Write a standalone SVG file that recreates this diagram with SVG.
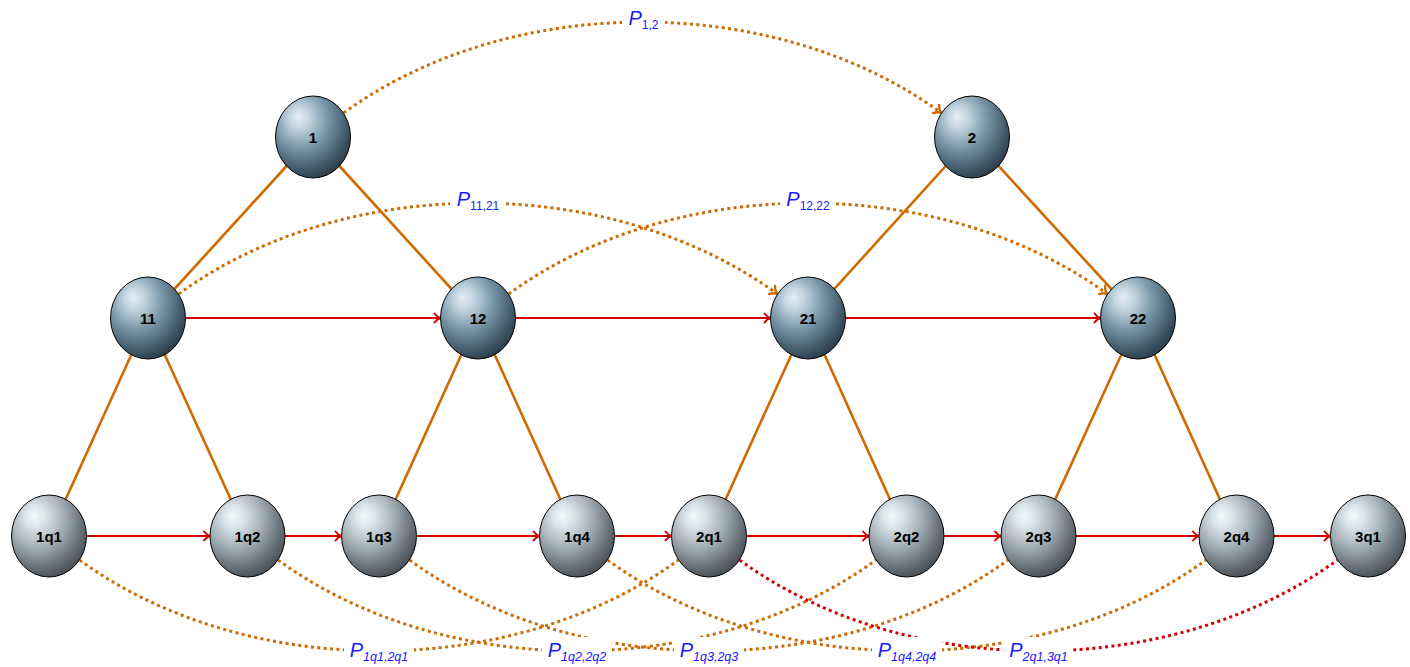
<svg xmlns="http://www.w3.org/2000/svg" width="1410" height="667" viewBox="0 0 1410 667">
<defs>
<radialGradient id="gBlue" cx="0.38" cy="0.32" r="0.72" fx="0.3" fy="0.25">
<stop offset="0" stop-color="#e4eef4"/>
<stop offset="0.18" stop-color="#c3d6e1"/>
<stop offset="0.5" stop-color="#7896a8"/>
<stop offset="0.82" stop-color="#415a6a"/>
<stop offset="1" stop-color="#2a3a46"/>
</radialGradient>
<radialGradient id="gGray" cx="0.38" cy="0.32" r="0.72" fx="0.3" fy="0.25">
<stop offset="0" stop-color="#f4f8fa"/>
<stop offset="0.18" stop-color="#dce5ea"/>
<stop offset="0.5" stop-color="#a4aeb5"/>
<stop offset="0.82" stop-color="#646d74"/>
<stop offset="1" stop-color="#464d52"/>
</radialGradient>
<marker id="arR" markerUnits="userSpaceOnUse" markerWidth="14" markerHeight="14" refX="0" refY="0" orient="auto" overflow="visible">
<path d="M-6,-4.5 C-4,-1.8 -1.5,-0.5 0,0 C-1.5,0.5 -4,1.8 -6,4.5" fill="none" stroke="#d40000" stroke-width="2" stroke-linecap="round"/>
</marker>
<marker id="arO" markerUnits="userSpaceOnUse" markerWidth="14" markerHeight="14" refX="0" refY="0" orient="auto" overflow="visible">
<path d="M-6.5,-5 C-4.5,-2 -1.5,-0.5 0,0 C-1.5,0.5 -4.5,2 -6.5,5" fill="none" stroke="#cf6a00" stroke-width="2.4" stroke-linecap="round"/>
</marker>
</defs>
<style>
.tree{stroke:#cf6a00;stroke-width:2.6;fill:none}
.seq{stroke:#d40000;stroke-width:2;fill:none;marker-end:url(#arR)}
.dotO{stroke:#cf6a00;stroke-width:3;stroke-dasharray:3 3.4;fill:none}
.dotR{stroke:#d40000;stroke-width:3;stroke-dasharray:3 3.4;fill:none}
.nb{fill:url(#gBlue);stroke:#000;stroke-width:1}
.ng{fill:url(#gGray);stroke:#000;stroke-width:1}
.nt{font-family:"Liberation Sans",Arial,sans-serif;font-weight:bold;font-size:15px;fill:#000;text-anchor:middle}
.lb{font-family:"Liberation Sans",Arial,sans-serif;fill:#1a1aff;text-anchor:middle}
.lbg{fill:#fff}
</style>

<g id="connectors">
<!-- tree edges -->
<line class="tree" x1="313" y1="137" x2="148" y2="318"/>
<line class="tree" x1="313" y1="137" x2="478" y2="318"/>
<line class="tree" x1="972" y1="137" x2="808" y2="318"/>
<line class="tree" x1="972" y1="137" x2="1138" y2="318"/>
<line class="tree" x1="148" y1="318" x2="49" y2="536"/>
<line class="tree" x1="148" y1="318" x2="247.5" y2="536"/>
<line class="tree" x1="478" y1="318" x2="379" y2="536"/>
<line class="tree" x1="478" y1="318" x2="577" y2="536"/>
<line class="tree" x1="808" y1="318" x2="709" y2="536"/>
<line class="tree" x1="808" y1="318" x2="906.5" y2="536"/>
<line class="tree" x1="1138" y1="318" x2="1038.5" y2="536"/>
<line class="tree" x1="1138" y1="318" x2="1236.5" y2="536"/>
<!-- sequence arrows -->
<line class="seq" x1="185.5" y1="318" x2="440.5" y2="318"/>
<line class="seq" x1="515.5" y1="318" x2="770.5" y2="318"/>
<line class="seq" x1="845.5" y1="318" x2="1100.5" y2="318"/>
<line class="seq" x1="86.5" y1="536" x2="210" y2="536"/>
<line class="seq" x1="285" y1="536" x2="341.5" y2="536"/>
<line class="seq" x1="416.5" y1="536" x2="539.5" y2="536"/>
<line class="seq" x1="614.5" y1="536" x2="671.5" y2="536"/>
<line class="seq" x1="746.5" y1="536" x2="869" y2="536"/>
<line class="seq" x1="944" y1="536" x2="1001" y2="536"/>
<line class="seq" x1="1076" y1="536" x2="1199" y2="536"/>
<line class="seq" x1="1274" y1="536" x2="1330.5" y2="536"/>
<!-- dotted bends -->
<path class="dotO" marker-end="url(#arO)" d="M343.7,112.9 C510.4,-8.2 774.6,-8.2 941.3,112.9"/>
<path class="dotO" marker-end="url(#arO)" d="M178.7,293.9 C345.4,172.8 610.6,172.8 777.3,293.9"/>
<path class="dotO" marker-end="url(#arO)" d="M508.7,293.9 C675.4,172.8 940.6,172.8 1107.3,293.9"/>
<path class="dotO" d="M79.7,560.1 C246.4,681.2 511.6,681.2 678.3,560.1"/>
<path class="dotO" d="M278.2,560.1 C444.9,681.2 709.1,681.2 875.8,560.1"/>
<path class="dotO" d="M409.7,560.1 C576.4,681.2 841.1,681.2 1007.8,560.1"/>
<path class="dotO" d="M607.7,560.1 C774.4,681.2 1039.1,681.2 1205.8,560.1"/>
<path class="dotR" d="M739.7,560.1 C906.4,681.2 1170.6,681.2 1337.3,560.1"/>
</g>

<g id="labels">
<rect class="lbg" x="622" y="6" width="43" height="28"/>
<text class="lb" x="643.5" y="25"><tspan font-size="20" font-style="italic">P</tspan><tspan font-size="12" dy="4">1,2</tspan></text>
<rect class="lbg" x="450" y="187" width="56" height="28"/>
<text class="lb" x="478" y="206"><tspan font-size="20" font-style="italic">P</tspan><tspan font-size="12" dy="4">11,21</tspan></text>
<rect class="lbg" x="780" y="187" width="56" height="28"/>
<text class="lb" x="808" y="206"><tspan font-size="20" font-style="italic">P</tspan><tspan font-size="12" dy="4">12,22</tspan></text>
<rect class="lbg" x="344" y="637" width="70" height="30"/>
<text class="lb" x="379" y="656.7"><tspan font-size="20" font-style="italic">P</tspan><tspan font-size="12.5" font-style="italic" dy="4">1q1,2q1</tspan></text>
<rect class="lbg" x="542" y="637" width="70" height="30"/>
<text class="lb" x="577" y="656.7"><tspan font-size="20" font-style="italic">P</tspan><tspan font-size="12.5" font-style="italic" dy="4">1q2,2q2</tspan></text>
<rect class="lbg" x="674" y="637" width="70" height="30"/>
<text class="lb" x="709" y="656.7"><tspan font-size="20" font-style="italic">P</tspan><tspan font-size="12.5" font-style="italic" dy="4">1q3,2q3</tspan></text>
<rect class="lbg" x="872" y="637" width="70" height="30"/>
<text class="lb" x="907" y="656.7"><tspan font-size="20" font-style="italic">P</tspan><tspan font-size="12.5" font-style="italic" dy="4">1q4,2q4</tspan></text>
<rect class="lbg" x="1003" y="637" width="70" height="30"/>
<text class="lb" x="1038.5" y="656.7"><tspan font-size="20" font-style="italic">P</tspan><tspan font-size="12.5" font-style="italic" dy="4">2q1,3q1</tspan></text>
</g>

<g id="n1"><ellipse class="nb" cx="313" cy="137" rx="37.5" ry="41"/><text class="nt" x="313" y="142.5">1</text></g>
<g id="n2"><ellipse class="nb" cx="972" cy="137" rx="37.5" ry="41"/><text class="nt" x="972" y="142.5">2</text></g>
<g id="n11"><ellipse class="nb" cx="148" cy="318" rx="37.5" ry="41"/><text class="nt" x="148" y="323.5">11</text></g>
<g id="n12"><ellipse class="nb" cx="478" cy="318" rx="37.5" ry="41"/><text class="nt" x="478" y="323.5">12</text></g>
<g id="n21"><ellipse class="nb" cx="808" cy="318" rx="37.5" ry="41"/><text class="nt" x="808" y="323.5">21</text></g>
<g id="n22"><ellipse class="nb" cx="1138" cy="318" rx="37.5" ry="41"/><text class="nt" x="1138" y="323.5">22</text></g>
<g id="n1q1"><ellipse class="ng" cx="49" cy="536" rx="37.5" ry="41"/><text class="nt" x="49" y="541.5">1q1</text></g>
<g id="n1q2"><ellipse class="ng" cx="247.5" cy="536" rx="37.5" ry="41"/><text class="nt" x="247.5" y="541.5">1q2</text></g>
<g id="n1q3"><ellipse class="ng" cx="379" cy="536" rx="37.5" ry="41"/><text class="nt" x="379" y="541.5">1q3</text></g>
<g id="n1q4"><ellipse class="ng" cx="577" cy="536" rx="37.5" ry="41"/><text class="nt" x="577" y="541.5">1q4</text></g>
<g id="n2q1"><ellipse class="ng" cx="709" cy="536" rx="37.5" ry="41"/><text class="nt" x="709" y="541.5">2q1</text></g>
<g id="n2q2"><ellipse class="ng" cx="906.5" cy="536" rx="37.5" ry="41"/><text class="nt" x="906.5" y="541.5">2q2</text></g>
<g id="n2q3"><ellipse class="ng" cx="1038.5" cy="536" rx="37.5" ry="41"/><text class="nt" x="1038.5" y="541.5">2q3</text></g>
<g id="n2q4"><ellipse class="ng" cx="1236.5" cy="536" rx="37.5" ry="41"/><text class="nt" x="1236.5" y="541.5">2q4</text></g>
<g id="n3q1"><ellipse class="ng" cx="1368" cy="536" rx="37.5" ry="41"/><text class="nt" x="1368" y="541.5">3q1</text></g>
</svg>
